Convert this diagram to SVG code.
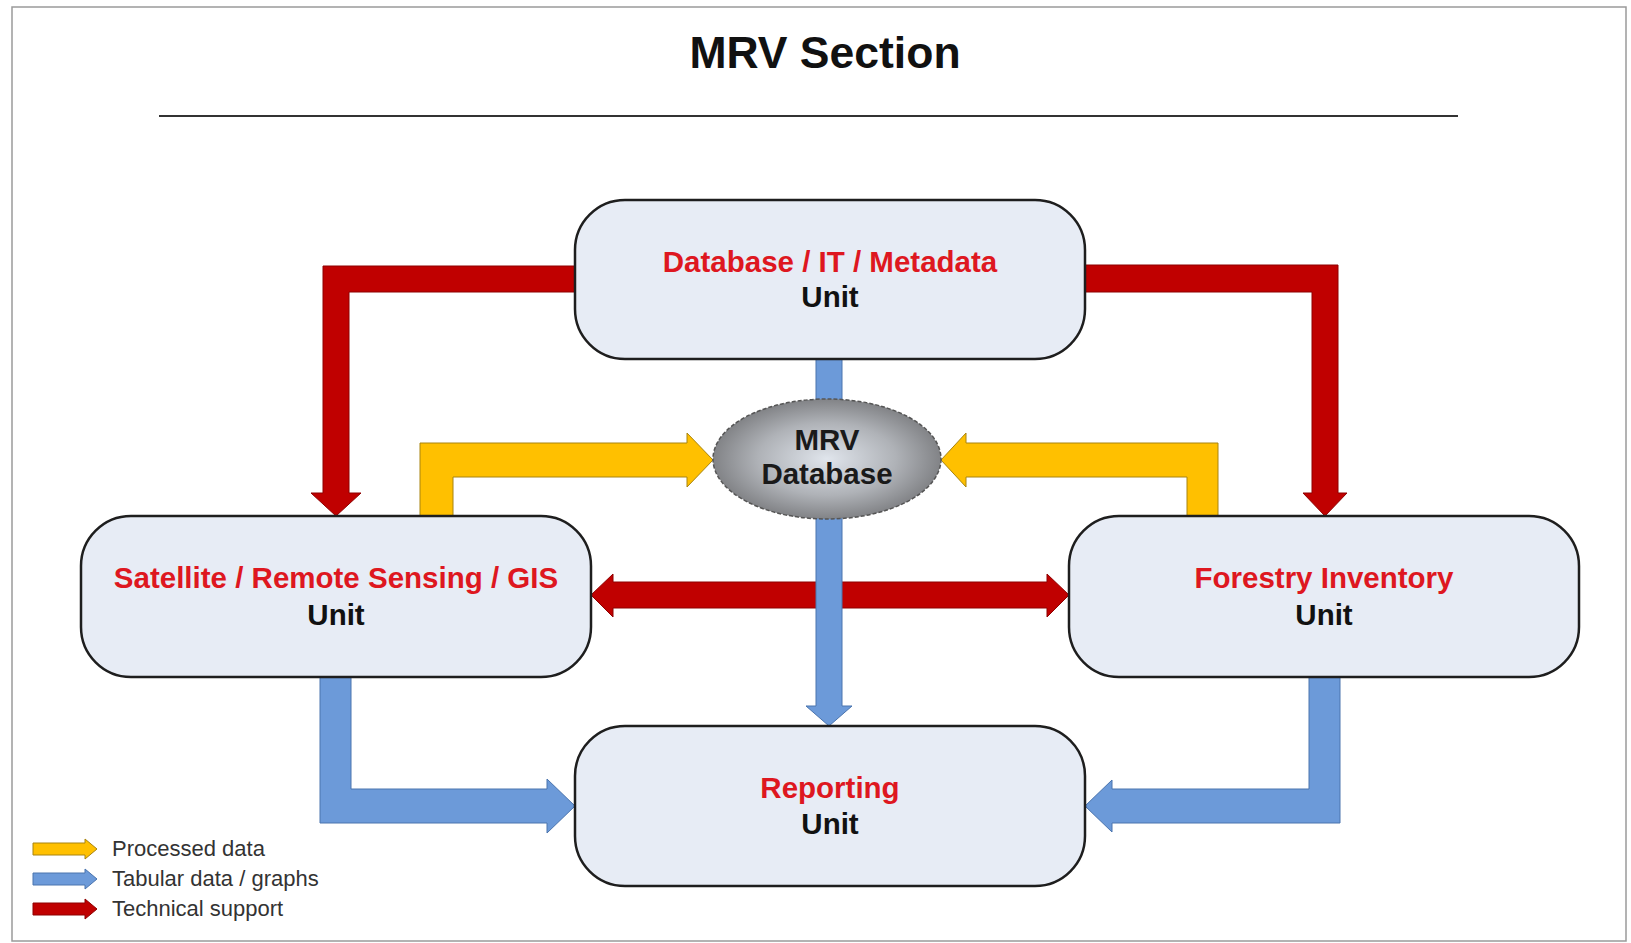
<svg xmlns="http://www.w3.org/2000/svg" width="1631" height="943" viewBox="0 0 1631 943">
<style>
.node rect{fill:#E7ECF5;stroke:#1E1E1E;stroke-width:2.5}
.t{font-family:"Liberation Sans",Arial,sans-serif;font-weight:bold;font-size:29.5px;text-anchor:middle}
.red{fill:#DE1720}
.blk{fill:#111}
.ar{fill:#C00000;stroke:#8E0000;stroke-width:1}
.ay{fill:#FFC000;stroke:#A88410;stroke-width:1}
.ab{fill:#6C9AD9;stroke:#4A74AE;stroke-width:1}
.leg{font-family:"Liberation Sans",Arial,sans-serif;font-size:22px;fill:#333}
</style>
<defs>
<radialGradient id="g" cx="0.5" cy="0.5" r="0.55">
<stop offset="0" stop-color="#E0E5EC"/>
<stop offset="0.55" stop-color="#AFB2B7"/>
<stop offset="1" stop-color="#76777A"/>
</radialGradient>
</defs>
<rect x="0" y="0" width="1631" height="943" fill="#fff"/>
<rect x="12" y="7" width="1614" height="934" fill="none" stroke="#9A9A9A" stroke-width="1.5"/>
<g id="title">
<text x="825" y="68" font-family="Liberation Sans,Arial,sans-serif" font-weight="bold" font-size="44.5" text-anchor="middle" fill="#111">MRV Section</text>
<line x1="159" y1="116" x2="1458" y2="116" stroke="#333" stroke-width="2"/>
</g>
<g id="connectors">
<polygon class="ar" points="578,266 323,266 323,493 311,493 336,516 361,493 349,493 349,292 578,292"/>
<polygon class="ar" points="1082,265 1338,265 1338,493 1347,493 1325,516 1303,493 1312,493 1312,292 1082,292"/>
<polygon class="ay" points="420,516 420,443 687,443 687,433 713,460 687,487 687,477 453,477 453,516"/>
<polygon class="ay" points="1218,516 1218,443 966,443 966,433 941,460 966,487 966,477 1187,477 1187,516"/>
<polygon class="ar" points="591,595 613,574 613,582 1047,582 1047,574 1069,595 1047,617 1047,608 613,608 613,617"/>
<rect class="ab" x="816" y="356" width="26" height="46"/>
<polygon class="ab" points="816,515 816,706 806,706 829,726 852,706 842,706 842,515"/>
<polygon class="ab" points="320,674 320,823 547,823 547,833 575,806 547,779 547,789 351,789 351,674"/>
<polygon class="ab" points="1340,674 1340,823 1112,823 1112,832 1085,806 1112,780 1112,789 1309,789 1309,674"/>
</g>
<g id="mrvdb">
<ellipse cx="827" cy="459" rx="114" ry="60" fill="url(#g)" stroke="#555" stroke-width="1.5" stroke-dasharray="4 2"/>
<text class="t" x="827" y="450" fill="#1a1a1a">MRV</text>
<text class="t" x="827" y="484" fill="#1a1a1a">Database</text>
</g>
<g id="dbit" class="node">
<rect x="575" y="200" width="510" height="159" rx="50"/>
<text class="t red" x="830" y="272">Database / IT / Metadata</text>
<text class="t blk" x="830" y="307">Unit</text>
</g>
<g id="satellite" class="node">
<rect x="81" y="516" width="510" height="161" rx="50"/>
<text class="t red" x="336" y="588">Satellite / Remote Sensing / GIS</text>
<text class="t blk" x="336" y="625">Unit</text>
</g>
<g id="forestry" class="node">
<rect x="1069" y="516" width="510" height="161" rx="50"/>
<text class="t red" x="1324" y="588">Forestry Inventory</text>
<text class="t blk" x="1324" y="625">Unit</text>
</g>
<g id="reporting" class="node">
<rect x="575" y="726" width="510" height="160" rx="50"/>
<text class="t red" x="830" y="798">Reporting</text>
<text class="t blk" x="830" y="834">Unit</text>
</g>
<g id="legend">
<polygon class="ay" points="33,843 85,843 85,839 97,849 85,859 85,855 33,855"/>
<polygon class="ab" points="33,873 85,873 85,869 97,879 85,889 85,885 33,885"/>
<polygon class="ar" points="33,903 85,903 85,899 97,909 85,919 85,915 33,915"/>
<text class="leg" x="112" y="856">Processed data</text>
<text class="leg" x="112" y="886">Tabular data / graphs</text>
<text class="leg" x="112" y="916">Technical support</text>
</g>
</svg>
